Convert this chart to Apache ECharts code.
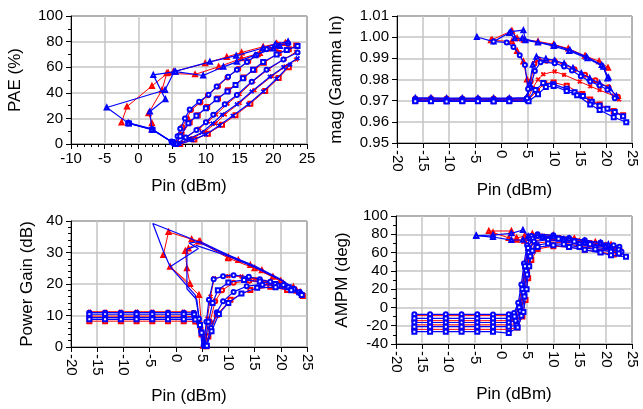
<!DOCTYPE html>
<html><head><meta charset="utf-8">
<script src="https://cdn.jsdelivr.net/npm/echarts@6/dist/echarts.min.js"></script>
<style>html,body{margin:0;padding:0;background:#fff}#c{width:643px;height:409px}</style>
</head><body><div id="c"></div>
<script>
// ---------- Tick labels / axes ----------
const paeTicksX = [-10, 25, 5];
const otherTicksX = [-20, 25, 5];
const paeTicksY = [0, 100, 20];
const magTicksY = [0.95, 1.01, 0.01];
const gainTicksY = [0, 40, 10];
const ampmTicksY = [-40, 100, 20];

// ---------- PAE (%) vs Pin ----------
const pae_r1 = [[5.4,0],[6,6.5],[6.5,13],[7.2,20],[7.8,26.5],[9.2,32.5],[10.3,38],[11.8,45],[13.2,52],[14.8,58.5],[16.3,64.5],[17.8,70],[19.3,74.5],[20.8,77.5],[22,79]];
const pae_r2 = [[5.6,0],[6.4,7],[7.6,17],[8.8,22.5],[10.2,29],[11.8,35.5],[13.3,42],[15.6,52],[17.2,58],[18.6,63.5],[20.8,71],[22.3,74],[23.4,77]];
const pae_r3 = [[5.8,0],[7.2,5.5],[9,12],[10.3,17.5],[11.5,23],[13.2,31.5],[15,39],[17,49],[19.3,58.5],[21.7,66.5],[23.4,72]];
const pae_r4 = [[6,0],[8,4.5],[9.8,9.5],[11.4,16],[12.8,23],[15,32],[17.2,42],[19.8,53],[21.8,60.5],[23.4,66]];
const pae_r5 = [[6.2,0],[8.3,3.5],[10.3,8],[12.4,15],[14.4,22.5],[16.6,31.5],[18.8,41.5],[20.8,51.5],[22.3,60]];
const pae_ru1 = [[-2.5,16.8],[-1.7,29.2],[2,45.3],[4.4,55.7],[5.2,56.5],[9.9,63],[13.1,68],[15.3,71.5],[18.5,76],[20.5,78.5]];
const pae_ru2 = [[2,11.5],[2,16.3],[1.5,24],[3.5,42.2],[4.2,55.2],[8.4,54.4],[11.9,60.3],[15.3,66.9],[18,71],[20.3,76],[21.8,79]];
const pae_b1 = [[-1.5,16.3],[2,11.5],[4.9,2],[5.3,0],[5.8,6],[6.2,12],[6.9,20],[7.6,27],[9,33],[10.4,38.5],[11.6,45],[13.3,52.5],[14.6,58],[16.1,64],[17.5,69.5],[19,74],[20.5,77],[22.2,78.5]];
const pae_b2 = [[-1.4,16],[2.1,11],[5,1.5],[5.5,0],[6.2,6],[7.4,16.3],[8.6,22],[10,28],[11.6,35],[13.2,41],[14.4,46],[15.5,51.3],[17,58],[18.5,64],[20.5,70],[22,73.5],[23.6,76.5]];
const pae_b3 = [[-1.5,16.6],[2,11.8],[5.1,1],[5.7,0],[7,5],[8.6,11],[10,17],[11.1,22.8],[12.8,31],[14.6,38.3],[16.8,48.7],[19,58],[21.5,66],[23.6,71.5]];
const pae_b4 = [[-1.3,16.1],[2.1,11.3],[5.2,0.8],[5.9,0],[7.5,4],[9.4,9],[11,16],[12.4,22.8],[14.6,31],[16.8,41],[19.5,52.6],[21.5,60],[23.6,67]];
const pae_b5 = [[6.1,0],[8,3],[10,7.5],[12,14.5],[14,22],[16.3,31],[18.5,41],[20.5,51],[22.5,62]];
const pae_bu1 = [[-1.5,16.3],[-4.7,28.5],[3.95,42.2],[5.3,56.5],[10.6,64.2],[14.5,69],[18.5,75],[20.3,78],[22.2,80]];
const pae_bu2 = [[2,11.1],[1.7,25.4],[4,35],[2.2,54],[5.5,56.5],[9.6,53.5],[12.6,60.3],[14.6,64.2],[17.3,69.4],[20,74.6],[21,76.5]];

// ---------- mag(Gamma In) vs Pin ----------
const mag_r1 = [[-16.5,0.9710],[-13.5,0.9711],[-10.5,0.9710],[-7.5,0.9710],[-4.5,0.9710],[-1.5,0.9710],[1.5,0.9710],[4.9,0.9711],[5.6,0.979],[6.3,0.9875],[7,0.9896],[8.6,0.9889],[10.2,0.9886],[12,0.987],[14,0.9848],[16,0.9822],[18,0.9796],[20.5,0.9763],[22.3,0.9718]];
const mag_r2 = [[-16.5,0.9705],[-13.5,0.9706],[-10.5,0.9705],[-7.5,0.9705],[-4.5,0.9705],[-1.5,0.9705],[1.5,0.9705],[5,0.9707],[6,0.976],[7,0.980],[8,0.9825],[10.2,0.9838],[12,0.9822],[15,0.979],[17,0.9768],[18.8,0.975],[21.5,0.9723],[22.5,0.9706]];
const mag_r3 = [[-16.5,0.9700],[-13.5,0.9700],[-10.5,0.9699],[-7.5,0.9700],[-4.5,0.9700],[-1.5,0.9699],[1.5,0.9700],[5.1,0.9702],[6.8,0.9746],[8.2,0.9781],[10,0.9786],[12.5,0.977],[15.5,0.9731],[17,0.9705],[18.8,0.9682],[21.5,0.9651],[23.3,0.9631]];
const mag_ru1 = [[-1.8,0.9988],[2,1.003],[3,0.9995],[4.3,0.9988],[7,0.998],[10,0.9966],[12.8,0.9946],[16,0.9912],[18.7,0.9886],[20.4,0.9856]];
const mag_ru2 = [[-2,0.9985],[2,0.998],[3,0.9935],[4.2,0.9885],[4.9,0.980],[5,0.9715]];
const mag_b1 = [[-16.5,0.9713],[-13.5,0.9713],[-10.5,0.9712],[-7.5,0.9712],[-4.5,0.9712],[-1.5,0.9712],[1.5,0.9712],[4.8,0.9714],[5.4,0.978],[6,0.987],[6.7,0.9908],[8.5,0.9898],[10.2,0.989],[12,0.9876],[13.7,0.9854],[15.3,0.983],[16.9,0.9806],[18.8,0.9782],[20.7,0.9759],[22,0.9722]];
const mag_b2 = [[-16.5,0.9708],[-13.5,0.9708],[-10.5,0.9707],[-7.5,0.9708],[-4.5,0.9708],[-1.5,0.9707],[1.5,0.9708],[4.8,0.9709],[5.5,0.976],[6.4,0.984],[7.5,0.9882],[10.2,0.9877],[12,0.9862],[13.5,0.9842],[15.2,0.9815],[17,0.979],[18.8,0.9772],[20.3,0.9752],[21.7,0.9712]];
const mag_b3 = [[-16.5,0.9702],[-13.5,0.9702],[-10.5,0.9701],[-7.5,0.9702],[-4.5,0.9702],[-1.5,0.9701],[1.5,0.9702],[5,0.9704],[6.5,0.975],[8,0.9783],[9.9,0.9778],[12.5,0.9756],[14,0.974],[15.6,0.9722],[17.3,0.9695],[18.8,0.9676],[20.3,0.9662],[21.7,0.9646],[23.3,0.9626]];
const mag_b4 = [[-16.5,0.9697],[-13.5,0.9697],[-10.5,0.9696],[-7.5,0.9697],[-4.5,0.9697],[-1.5,0.9696],[1.5,0.9697],[5.2,0.9697],[7,0.973],[8.5,0.9765],[10,0.9769],[12.5,0.9746],[14.5,0.9726],[17,0.9682],[18.8,0.9656],[21.5,0.9622],[23.9,0.9598]];
const mag_bu1 = [[-4.7,1.0001],[-1.5,0.9979],[1.8,1.0026],[4.2,1.0033],[4.6,0.9985],[7,0.9975],[10.2,0.9962],[13.1,0.994],[16.3,0.9907],[19.2,0.9869],[20.5,0.981]];
const mag_bu2 = [[-1.5,0.9979],[1,0.9975],[2.3,0.9954],[3.5,0.9915],[4.5,0.9868],[5.1,0.9755],[4.9,0.9712]];
const mag_bu3 = [[1.5,1.002],[2.5,0.9995],[4,0.9995],[10,0.9958],[13,0.9935],[16.5,0.99],[19.5,0.986],[20.3,0.9805]];

// ---------- Power Gain (dB) vs Pin ----------
const gain_r1 = [[-16.5,11.2],[-13.5,11.2],[-10.5,11.2],[-7.5,11.2],[-4.5,11.2],[-1.5,11.2],[1.5,11.2],[3.4,11.1],[4.5,8.5],[5.4,0.3],[6,9],[6.6,16],[7.3,21.8],[10,22.5],[12.5,22.4],[15,21.6],[18,20.6],[21,19.3],[23.3,17.5]];
const gain_r2 = [[-16.5,9.8],[-13.5,9.8],[-10.5,9.8],[-7.5,9.8],[-4.5,9.8],[-1.5,9.8],[1.5,9.8],[3.6,9.6],[4.7,6],[5.6,0.2],[6.5,8],[7.5,14.5],[8.8,18],[11,20.4],[14,21],[17,20.4],[20,19.5],[22.6,18]];
const gain_r3 = [[-16.5,8.2],[-13.5,8.2],[-10.5,8.2],[-7.5,8.2],[-4.5,8.2],[-1.5,8.2],[1.5,8.2],[3.7,8.1],[4.9,4],[5.8,0.2],[6.2,3.3],[7.8,10.2],[10.4,15],[14.2,18.1],[18,19.1],[21.2,18.1],[24.2,16.2]];
const gain_ru1 = [[-2.4,29.2],[-1.4,36.5],[3,34.2],[4.6,33.6],[10,28.6],[11.9,27.6],[14.2,26],[16.4,24.4],[18.5,22.3],[20.5,20.2],[22.4,19.1],[23.7,17.5]];
const gain_ru2 = [[5.2,0.4],[4.4,16.5],[-1.1,25.5],[2.7,20],[2.1,25],[1.8,30.5],[2.4,31.3],[4.4,33.5],[10,28.2],[15,25],[20,21],[23,18]];
const gain_b1 = [[-16.5,10.9],[-13.5,10.9],[-10.5,10.9],[-7.5,10.9],[-4.5,10.9],[-1.5,10.9],[1.5,10.9],[3.4,10.8],[4.4,9],[5.3,0.5],[5.8,8],[6.3,15],[7.2,21.5],[9,22.5],[11,22.8],[13.9,22.3],[16,21.5],[18,20.7],[20.5,19.7],[22.5,18.5],[23.7,17]];
const gain_b2 = [[-16.5,10.4],[-13.5,10.4],[-10.5,10.4],[-7.5,10.4],[-4.5,10.4],[-1.5,10.4],[1.5,10.4],[3.5,10.3],[4.6,7],[5.5,0.3],[6.2,8],[7,14],[8,18],[10,20.5],[13,21.3],[16,20.8],[19,20],[21.5,19],[23.5,17.4]];
const gain_b3 = [[-16.5,9.3],[-13.5,9.3],[-10.5,9.3],[-7.5,9.3],[-4.5,9.3],[-1.5,9.3],[1.5,9.3],[3.6,9.2],[4.8,5],[5.7,0.3],[6.7,6],[7.8,11],[9,14.5],[11,17.5],[13.5,19.3],[16.5,19.8],[19.5,19.5],[22,18.5],[23.8,17]];
const gain_b4 = [[-16.5,8.8],[-13.5,8.8],[-10.5,8.8],[-7.5,8.8],[-4.5,8.8],[-1.5,8.8],[1.5,8.8],[3.7,8.7],[4.9,4.5],[5.9,0.4],[6.8,5],[8.2,10.5],[10,14],[12.5,17],[15.5,18.8],[19,19],[22,18],[24,16.5]];
const gain_bu1 = [[-1.1,25.5],[-2.4,30.5],[-4.4,39.2],[2,35],[8,30.5],[13,27],[19.3,21.8]];
const gain_bu2 = [[5.3,0.5],[3.7,16.5],[-1.1,25.5],[4.3,31.3],[2.5,33],[4.6,33.5],[10,29.2],[15,25.8],[20,21.5],[23.5,17.5]];
const gain_bu3 = [[5,0.3],[4,15],[2.1,18.5],[2.1,31],[4,32.2],[10,28.8],[16,24.6],[21,20.4]];

// ---------- AMPM (deg) vs Pin ----------
const ampm_r1 = [[-16.5,-9],[-13.5,-9],[-10.5,-9],[-7.5,-9],[-4.5,-9],[-1.5,-9],[1.5,-9],[2.6,-7.5],[3.4,3],[4,22],[4.5,45],[5.1,65],[6,76],[8,78.5],[11,77],[14,74],[17,71.5],[20,69],[22,66]];
const ampm_r2 = [[-16.5,-14.5],[-13.5,-14.5],[-10.5,-14.5],[-7.5,-14.5],[-4.5,-14.5],[-1.5,-14.5],[1.5,-14.5],[2.7,-13],[3.6,-3],[4.2,18],[4.7,42],[5.3,62],[6.2,73],[9,75],[12,73],[15,70],[18,67],[21,64.5],[22.8,62]];
const ampm_r3 = [[-16.5,-19],[-13.5,-19],[-10.5,-19],[-7.5,-19],[-4.5,-19],[-1.5,-19],[1.5,-19],[2.9,-17.5],[3.8,-7],[4.4,14],[4.9,38],[5.5,58],[6.6,70],[9,72],[12,70.5],[15,67],[18,64.5],[21,62],[23,60]];
const ampm_r4 = [[-16.5,-24],[-13.5,-24],[-10.5,-24],[-7.5,-24],[-4.5,-24],[-1.5,-24],[1.5,-24],[3.1,-22],[4.1,-10],[4.7,8],[5.2,32],[5.8,52],[7,64],[10,67],[13,66],[16,63],[19,60.5],[21.5,58]];
const ampm_ru1 = [[-2.3,83.6],[2,83.6],[3,76],[4.5,78],[6,80.5],[10,79],[14,75.5],[18,71.5],[21,68.5]];
const ampm_ru2 = [[-1.5,82],[1.5,76],[3,74],[4.5,73],[6,77],[10,76],[15,72],[20,67]];
const ampm_b1 = [[-16.5,-7.5],[-13.5,-7.5],[-10.5,-7.5],[-7.5,-7.5],[-4.5,-7.5],[-1.5,-7.6],[1.5,-7.5],[2.5,-6],[3.3,5],[3.9,25],[4.4,48],[5,68],[5.8,78],[7,80],[10,79],[13,76],[16,73.5],[19,71],[21.5,68],[22.6,66.4]];
const ampm_b2 = [[-16.5,-12],[-13.5,-12],[-10.5,-12],[-7.5,-12],[-4.5,-12],[-1.5,-12],[1.5,-12],[2.6,-10],[3.5,0],[4.1,20],[4.6,45],[5.2,65],[6,75],[8,77],[11,75],[14,72],[17,69],[20,66],[22.5,63]];
const ampm_b3 = [[-16.5,-16.5],[-13.5,-16.5],[-10.5,-16.5],[-7.5,-16.5],[-4.5,-16.5],[-1.5,-16.5],[1.5,-16.5],[2.8,-14.5],[3.7,-4],[4.3,16],[4.8,40],[5.3,60],[6.3,72],[9,74],[12,72],[15,69],[18,66],[21,63],[23,61]];
const ampm_b4 = [[-16.5,-21],[-13.5,-21],[-10.5,-21],[-7.5,-21],[-4.5,-21],[-1.5,-21],[1.5,-21],[3,-19.5],[3.9,-9],[4.5,12],[5,36],[5.6,56],[6.8,68],[9,70],[12,69],[15,66],[18,63.5],[21,61],[22.5,59]];
const ampm_b5 = [[-16.5,-26.5],[-13.5,-26.5],[-10.5,-26.5],[-7.5,-26.5],[-4.5,-26.5],[-1.5,-26.5],[1.5,-28],[3.2,-22],[4.3,-5],[4.9,20],[5.4,45],[6,62],[7,66],[10,68],[13,66],[16,63],[19,60],[21,57],[23.85,55.5]];
const ampm_bu1 = [[-4.7,78.5],[-1.5,79.2],[2,81],[4.2,84.7],[5.2,78],[7,78.5],[10,77.5],[13,75.5],[16,73],[19,70.5],[20.5,69]];
const ampm_bu2 = [[-4.7,78.5],[-1.5,77],[2,73.7],[4.2,74],[5.5,76],[8,77],[12,74.5],[16,71],[20,67.5]];

// ---------- build ----------
const RED = '#ff0000', BLUE = '#0000ff';
const FONT = '"Liberation Sans", Arial, sans-serif';
const XMARK = 'path://M2,0L5,3L8,0L10,2L7,5L10,8L8,10L5,7L2,10L0,8L3,5L0,2Z';

function s(gi, data, color, symbol) {
  return {
    type: 'line', xAxisIndex: gi, yAxisIndex: gi, data: data,
    symbol: symbol, symbolSize: 4, showSymbol: true, showAllSymbol: true,
    lineStyle: { color: color, width: color === BLUE ? 1.2 : 1 },
    itemStyle: { color: color, borderColor: color, borderWidth: 1 },
    emphasis: { disabled: true }, silent: true, animation: false,
    z: color === BLUE ? 3 : 2
  };
}
const T = 'emptyTriangle', C = 'emptyCircle', R = 'emptyRect';

const series = [
  // PAE
  s(0, pae_r1, RED, C), s(0, pae_r2, RED, R), s(0, pae_r3, RED, XMARK), s(0, pae_r4, RED, XMARK), s(0, pae_r5, RED, R),
  s(0, pae_ru1, RED, T), s(0, pae_ru2, RED, T),
  s(0, pae_b1, BLUE, C), s(0, pae_b2, BLUE, R), s(0, pae_b3, BLUE, C), s(0, pae_b4, BLUE, XMARK), s(0, pae_b5, BLUE, XMARK),
  s(0, pae_bu1, BLUE, T), s(0, pae_bu2, BLUE, T),
  // mag
  s(1, mag_r1, RED, C), s(1, mag_r2, RED, XMARK), s(1, mag_r3, RED, R), s(1, mag_ru1, RED, T), s(1, mag_ru2, RED, T),
  s(1, mag_b1, BLUE, T), s(1, mag_b2, BLUE, C), s(1, mag_b3, BLUE, R), s(1, mag_b4, BLUE, R),
  s(1, mag_bu1, BLUE, T), s(1, mag_bu2, BLUE, C), s(1, mag_bu3, BLUE, T),
  // gain
  s(2, gain_r1, RED, XMARK), s(2, gain_r2, RED, C), s(2, gain_r3, RED, R), s(2, gain_ru1, RED, T), s(2, gain_ru2, RED, T),
  s(2, gain_b1, BLUE, C), s(2, gain_b2, BLUE, R), s(2, gain_b3, BLUE, C), s(2, gain_b4, BLUE, R),
  s(2, gain_bu1, BLUE, 'none'), s(2, gain_bu2, BLUE, 'none'), s(2, gain_bu3, BLUE, 'none'),
  // ampm
  s(3, ampm_r1, RED, XMARK), s(3, ampm_r2, RED, C), s(3, ampm_r3, RED, XMARK), s(3, ampm_r4, RED, R),
  s(3, ampm_ru1, RED, T), s(3, ampm_ru2, RED, T),
  s(3, ampm_b1, BLUE, C), s(3, ampm_b2, BLUE, R), s(3, ampm_b3, BLUE, C), s(3, ampm_b4, BLUE, R), s(3, ampm_b5, BLUE, R),
  s(3, ampm_bu1, BLUE, T), s(3, ampm_bu2, BLUE, T)
];

function xAx(gi, ticks, rotate, nameGap, minor) {
  return {
    gridIndex: gi, type: 'value', min: ticks[0], max: ticks[1], interval: ticks[2],
    name: 'Pin (dBm)', nameLocation: 'middle', nameGap: nameGap,
    nameTextStyle: { fontSize: 17, color: '#000', fontFamily: FONT },
    axisLine: { show: true, onZero: false, lineStyle: { color: '#000', width: 1 } },
    axisTick: { show: true, inside: false, length: 5, lineStyle: { color: '#000' } },
    minorTick: { show: !!minor, splitNumber: 5, length: 3, lineStyle: { color: '#000' } },
    splitLine: { show: true, lineStyle: { color: '#c4c4c4', width: 1.5 } },
    axisLabel: { color: '#000', fontSize: 15, fontFamily: FONT, rotate: rotate, margin: 7, hideOverlap: false,
      showMinLabel: true, showMaxLabel: true }
  };
}
function yAx(gi, ticks, name, nameGap, minorSplit, fmt) {
  return {
    gridIndex: gi, type: 'value', min: ticks[0], max: ticks[1], interval: ticks[2],
    name: name, nameLocation: 'middle', nameGap: nameGap,
    nameTextStyle: { fontSize: 17, color: '#000', fontFamily: FONT },
    axisLine: { show: true, onZero: false, lineStyle: { color: '#000', width: 1 } },
    axisTick: { show: true, inside: false, length: 5, lineStyle: { color: '#000' } },
    minorTick: { show: minorSplit > 0, splitNumber: minorSplit || 2, length: 3, lineStyle: { color: '#000' } },
    splitLine: { show: true, lineStyle: { color: '#c4c4c4', width: 1.5 } },
    axisLabel: { color: '#000', fontSize: 15, fontFamily: FONT, margin: 8, formatter: fmt,
      showMinLabel: true, showMaxLabel: true }
  };
}
const gridStyle = { show: true, borderColor: '#000', borderWidth: 1, backgroundColor: 'transparent' };

const option = {
  animation: false,
  backgroundColor: '#fff',
  grid: [
    Object.assign({ left: 71, top: 16, width: 236, height: 128 }, gridStyle),
    Object.assign({ left: 397, top: 16, width: 235, height: 127 }, gridStyle),
    Object.assign({ left: 71, top: 221, width: 236, height: 126 }, gridStyle),
    Object.assign({ left: 396, top: 216, width: 236, height: 128 }, gridStyle)
  ],
  xAxis: [
    xAx(0, paeTicksX, 0, 34, true),
    xAx(1, otherTicksX, -90, 39, false),
    xAx(2, otherTicksX, -90, 41, false),
    xAx(3, otherTicksX, -90, 42, false)
  ],
  yAxis: [
    yAx(0, paeTicksY, 'PAE (%)', 47, 2),
    yAx(1, magTicksY, 'mag (Gamma In)', 52, 0, v => v.toFixed(2)),
    yAx(2, gainTicksY, 'Power Gain (dB)', 35, 5),
    yAx(3, ampmTicksY, 'AMPM (deg)', 45, 2)
  ],
  series: series
};
const chart = echarts.init(document.getElementById('c'), null, { renderer: 'canvas' });
chart.setOption(option);
</script></body></html>
